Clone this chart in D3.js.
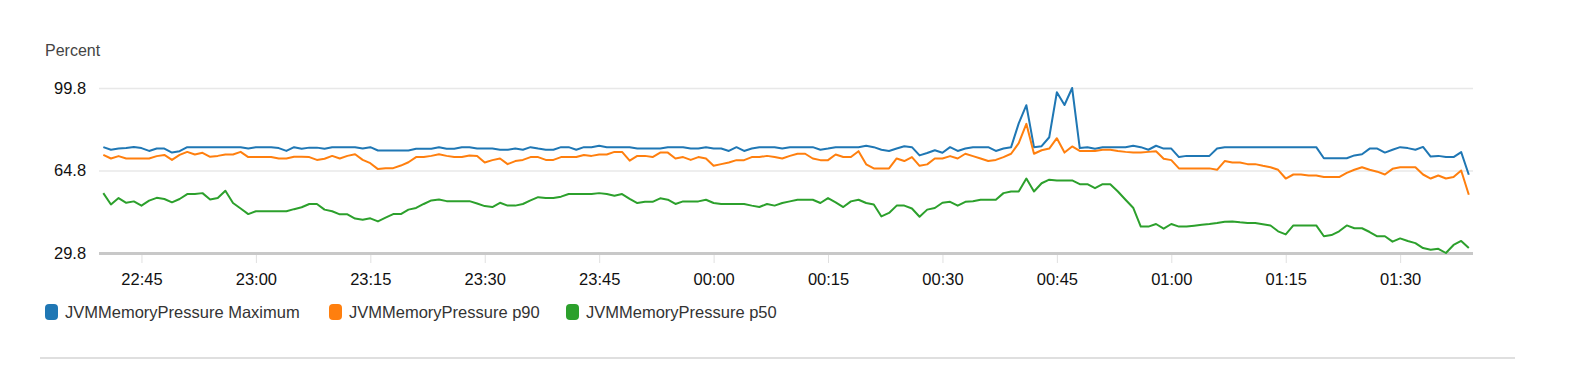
<!DOCTYPE html>
<html lang="en">
<head>
    <meta charset="UTF-8">
    <script src="https://d3js.org/d3.v7.min.js"></script>
    <title>JVMMemoryPressure</title>
    <style>
        body { margin: 0; background: #fff; }
        text { font-family: "Liberation Sans", Arial, Helvetica, sans-serif; }
    </style>
</head>
<body>
    <script>

        // one sample per minute, starting 22:40
        var startTime = new Date(2018, 0, 1, 22, 40);

        var maxValues = [
            74.7, 73.6, 74.1, 74.3, 74.8, 74.3, 73.1, 74.1, 74.1, 72.4,
            73.0, 74.7, 74.7, 74.7, 74.7, 74.7, 74.7, 74.7, 74.7, 74.1,
            74.7, 74.7, 74.7, 74.3, 73.1, 74.7, 74.0, 74.5, 74.5, 74.0,
            74.7, 74.7, 74.7, 74.7, 74.1, 74.7, 73.3, 73.3, 73.3, 73.3,
            73.3, 74.0, 74.0, 74.0, 74.7, 74.0, 74.0, 74.7, 74.7, 74.1,
            74.1, 74.1, 73.6, 73.6, 74.1, 73.6, 74.7, 74.1, 73.6, 73.6,
            74.7, 74.7, 73.6, 74.7, 74.7, 75.3, 74.7, 74.7, 74.7, 74.7,
            74.1, 74.1, 74.1, 74.1, 74.7, 74.7, 74.7, 74.1, 74.1, 74.7,
            74.1, 74.1, 73.1, 74.7, 73.1, 74.1, 74.7, 74.7, 74.7, 74.1,
            74.7, 74.7, 74.7, 74.7, 73.6, 74.1, 74.7, 74.7, 74.7, 74.7,
            75.3, 74.7, 73.6, 73.1, 74.1, 75.1, 74.7, 71.2, 72.2, 73.4,
            72.3, 74.7, 73.1, 74.1, 74.7, 74.7, 74.7, 73.1, 74.1, 74.7,
            84.8, 92.5, 74.7, 75.1, 78.9, 98.0, 92.6, 99.8, 74.3, 74.7,
            74.0, 74.7, 74.7, 74.7, 74.7, 75.3, 74.7, 73.6, 75.3, 74.1,
            74.1, 70.5, 71.0, 71.0, 71.0, 71.0, 74.1, 74.7, 74.7, 74.7,
            74.7, 74.7, 74.7, 74.7, 74.7, 74.7, 74.7, 74.7, 74.7, 74.7,
            70.0, 70.0, 70.0, 70.0, 71.2, 71.7, 74.1, 74.1, 72.4, 73.6,
            74.7, 74.3, 73.6, 74.8, 70.7, 71.0, 70.5, 70.5, 72.6, 63.0
        ];

        var p90Values = [
            71.4, 69.9, 70.9, 69.9, 69.9, 69.9, 69.9, 70.9, 71.4, 69.3,
            71.4, 72.7, 71.6, 72.3, 70.6, 71.0, 71.6, 71.6, 72.7, 70.5,
            70.5, 70.5, 70.5, 69.9, 69.9, 70.6, 70.6, 70.5, 69.3, 69.8,
            71.0, 69.9, 71.0, 71.7, 69.3, 67.9, 65.4, 65.8, 65.8, 66.9,
            68.3, 70.5, 70.5, 71.0, 71.7, 71.0, 70.5, 70.5, 71.2, 71.0,
            68.2, 69.2, 69.9, 67.5, 68.8, 69.3, 70.5, 70.5, 69.3, 69.3,
            70.5, 70.5, 70.5, 71.4, 71.0, 71.6, 71.6, 72.7, 72.7, 69.0,
            71.0, 71.0, 70.5, 72.4, 72.4, 69.9, 70.5, 69.3, 70.5, 69.9,
            66.8, 67.5, 68.2, 69.2, 69.2, 70.5, 70.5, 71.0, 70.5, 69.9,
            71.0, 71.9, 71.9, 69.9, 69.2, 69.2, 71.6, 70.5, 70.5, 73.0,
            67.4, 65.7, 65.7, 65.7, 69.9, 68.8, 70.5, 66.8, 67.4, 69.9,
            69.9, 70.9, 69.9, 71.9, 70.9, 69.9, 68.8, 69.3, 70.5, 71.9,
            76.4, 84.6, 71.9, 73.4, 74.1, 78.5, 72.4, 75.0, 73.1, 73.1,
            73.1, 73.6, 73.6, 73.1, 72.7, 72.4, 72.4, 72.7, 73.0, 69.8,
            69.2, 65.7, 65.7, 65.7, 65.7, 65.7, 65.1, 68.8, 68.2, 68.2,
            67.5, 67.5, 66.8, 66.2, 65.1, 61.4, 63.1, 63.1, 62.7, 62.7,
            62.0, 62.0, 62.0, 63.8, 65.1, 66.2, 65.1, 64.3, 63.1, 65.5,
            66.2, 66.2, 66.2, 63.1, 61.4, 62.7, 61.4, 62.0, 64.8, 54.5
        ];

        var p50Values = [
            55.2, 50.4, 53.1, 51.1, 51.7, 49.9, 52.0, 53.2, 52.7, 51.3,
            52.7, 54.8, 54.8, 55.2, 52.5, 53.1, 56.2, 51.0, 48.7, 46.3,
            47.5, 47.5, 47.5, 47.5, 47.5, 48.4, 49.2, 50.6, 50.6, 48.2,
            47.5, 46.2, 46.2, 44.4, 43.9, 44.5, 43.2, 44.8, 46.3, 46.3,
            48.2, 48.9, 50.6, 52.1, 52.5, 51.8, 51.8, 51.8, 51.8, 50.8,
            49.7, 49.3, 51.1, 49.9, 49.9, 50.6, 52.1, 53.5, 53.1, 53.1,
            53.7, 54.8, 54.8, 54.8, 54.8, 55.2, 54.8, 54.1, 54.8, 52.8,
            51.0, 51.5, 51.5, 53.0, 52.4, 50.6, 51.7, 51.7, 51.7, 52.4,
            51.0, 50.6, 50.6, 50.6, 50.6, 49.9, 49.3, 50.6, 49.9, 51.0,
            51.7, 52.4, 52.4, 52.4, 51.0, 53.1, 51.3, 49.3, 51.7, 52.4,
            51.0, 50.4, 45.3, 46.8, 49.9, 49.9, 48.7, 45.2, 48.2, 48.9,
            51.1, 51.5, 49.9, 51.5, 51.8, 52.4, 52.4, 52.4, 55.2, 55.9,
            55.9, 61.4, 55.9, 59.4, 60.9, 60.6, 60.6, 60.6, 59.0, 59.0,
            57.3, 59.0, 59.0, 55.9, 52.4, 49.0, 41.0, 41.0, 42.1, 40.1,
            42.1, 41.0, 41.0, 41.4, 41.8, 42.1, 42.5, 43.1, 43.2, 42.8,
            42.5, 42.5, 42.0, 41.5, 39.0, 37.7, 41.5, 41.5, 41.5, 41.5,
            36.9, 37.4, 39.0, 41.5, 40.3, 40.3, 38.7, 36.9, 36.9, 34.6,
            36.0, 34.9, 34.0, 31.9, 31.2, 31.6, 29.8, 33.2, 34.9, 31.9
        ];

        var seriesNames = ["JVMMemoryPressure Maximum", "JVMMemoryPressure p90", "JVMMemoryPressure p50"];
        var seriesColors = ["#1f77b4", "#ff7f0e", "#2ca02c"];
        var yTicks = [29.8, 64.8, 99.8];

        var series = [maxValues, p90Values, p50Values].map(function(vals, k) {
            return {
                name: seriesNames[k],
                color: seriesColors[k],
                points: vals.map(function(v, i) {
                    return { t: d3.timeMinute.offset(startTime, i), v: v };
                })
            };
        });

        var width = 1570, height = 380;
        var plotLeft = 99, plotRight = 1473, plotTop = 88, plotBottom = 253;

        var svg = d3.select("body").append("svg")
            .attr("width", width)
            .attr("height", height);

        var x = d3.scaleTime()
            .domain([new Date(2018, 0, 1, 22, 39, 26), new Date(2018, 0, 2, 1, 39, 33)])
            .range([plotLeft, plotRight]);

        var y = d3.scaleLinear()
            .domain([29.8, 99.8])
            .range([plotBottom, plotTop]);

        // y label
        svg.append("text")
            .attr("x", 45)
            .attr("y", 56)
            .attr("fill", "#444")
            .style("font-size", "16px")
            .text("Percent");

        // grid lines
        var yAxis = svg.append("g")
            .attr("transform", "translate(" + plotLeft + ",0)")
            .call(d3.axisLeft(y).tickValues(yTicks).tickSize(-(plotRight - plotLeft)).tickPadding(12).tickFormat(d3.format(".1f")));
        yAxis.select(".domain").remove();
        yAxis.selectAll(".tick line")
            .attr("stroke", function(d) { return d === 29.8 ? "#c8c8c8" : "#e8e8e8"; })
            .attr("stroke-width", function(d) { return d === 29.8 ? 3 : 1.5; });
        yAxis.selectAll(".tick text")
            .attr("fill", "#111")
            .attr("text-anchor", "start")
            .attr("x", 54 - plotLeft)
            .style("font-size", "16.5px")
            .style("font-family", "'Liberation Sans', Arial, sans-serif");

        // x axis
        var xAxis = svg.append("g")
            .attr("transform", "translate(0," + (plotBottom + 2) + ")")
            .call(d3.axisBottom(x).ticks(d3.timeMinute.every(15)).tickSize(8).tickPadding(10).tickFormat(d3.timeFormat("%H:%M")));
        xAxis.select(".domain").remove();
        xAxis.selectAll(".tick line").attr("stroke", "#e0e0e0");
        xAxis.selectAll(".tick text")
            .attr("fill", "#111")
            .style("font-size", "16.5px")
            .style("font-family", "'Liberation Sans', Arial, sans-serif");

        var line = d3.line()
            .x(function(d) { return x(d.t); })
            .y(function(d) { return y(d.v); });

        svg.selectAll(".series")
            .data(series)
            .enter()
            .append("path")
            .attr("class", "series")
            .attr("d", function(d) { return line(d.points); })
            .attr("fill", "none")
            .attr("stroke", function(d) { return d.color; })
            .attr("stroke-width", 2)
            .attr("stroke-linejoin", "round");

        // legend
        var legendX = [45, 329, 566];
        var legend = svg.selectAll(".legend")
            .data(series)
            .enter()
            .append("g")
            .attr("class", "legend")
            .attr("transform", function(d, i) { return "translate(" + legendX[i] + ",304)"; });
        legend.append("rect")
            .attr("width", 13)
            .attr("height", 16)
            .attr("rx", 4)
            .attr("fill", function(d) { return d.color; });
        legend.append("text")
            .attr("x", 20)
            .attr("y", 14)
            .attr("fill", "#333")
            .style("font-size", "16.5px")
            .text(function(d) { return d.name; });

        // bottom separator
        svg.append("line")
            .attr("x1", 40).attr("x2", 1515)
            .attr("y1", 358).attr("y2", 358)
            .attr("stroke", "#d5d5d5")
            .attr("stroke-width", 1.5);
    </script>
</body>
</html>
